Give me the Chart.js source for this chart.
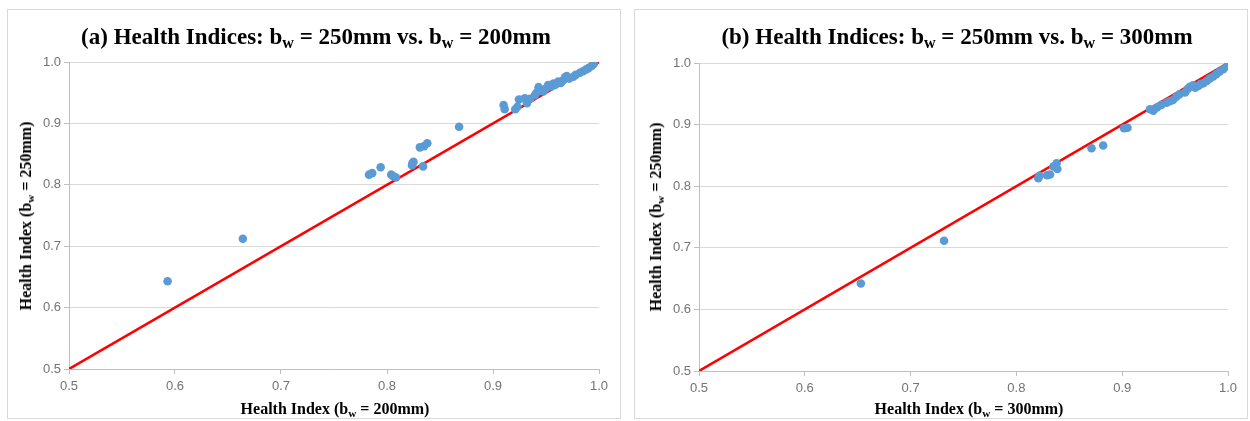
<!DOCTYPE html>
<html>
<head>
<meta charset="utf-8">
<script src="https://cdn.jsdelivr.net/npm/chart.js@4"></script>
<style>
    body { margin: 0; background: #fff; width: 1250px; height: 421px; position: relative; overflow: hidden; }
    .panel { position: absolute; top: 9px; width: 614px; height: 410px; box-sizing: border-box; border: 1px solid #d9d9d9; }
    .panel canvas { position: absolute; left: 0; top: 0; }
    .txt { position: absolute; font-family: "Liberation Serif", "Times New Roman", serif; font-weight: bold; color: #000; white-space: nowrap; transform: translateX(-50%); }
    .title { font-size: 23px; line-height: 23px; }
    .axis { font-size: 16px; line-height: 16px; }
    .ytitle { transform: translate(-50%, -50%) rotate(-90deg); }
    sub { font-size: 70%; vertical-align: -0.25em; line-height: 0; }
</style>
</head>
<body>
<div class="panel" id="panelA" style="left:7px"><canvas id="chartA" width="612" height="408"></canvas></div>
<div class="panel" id="panelB" style="left:634px"><canvas id="chartB" width="612" height="408"></canvas></div>

<div class="txt title" style="left:316px; top:25px">(a) Health Indices: b<sub>w</sub> = 250mm vs. b<sub>w</sub> = 200mm</div>
<div class="txt title" style="left:957px; top:25px">(b) Health Indices: b<sub>w</sub> = 250mm vs. b<sub>w</sub> = 300mm</div>
<div class="txt axis" style="left:335px; top:401px">Health Index (b<sub>w</sub> = 200mm)</div>
<div class="txt axis" style="left:969px; top:401px">Health Index (b<sub>w</sub> = 300mm)</div>
<div class="txt axis ytitle" style="left:26px; top:216px">Health Index (b<sub>w</sub> = 250mm)</div>
<div class="txt axis ytitle" style="left:656px; top:217px">Health Index (b<sub>w</sub> = 250mm)</div>

<script>
// tick values shared by both axes
const axisTicks = [0.5, 0.6, 0.7, 0.8, 0.9, 1.0];

// (a) x = health index at 200mm, y = health index at 250mm
const hiA200 = [0.593, 0.664, 0.783, 0.786, 0.794, 0.804, 0.806, 0.8085, 0.8236, 0.825, 0.824, 0.834,
    0.831, 0.835, 0.838, 0.868, 0.910, 0.911, 0.921, 0.923, 0.9245, 0.930, 0.932, 0.935, 0.9396, 0.941,
    0.943, 0.945, 0.9475, 0.950, 0.952, 0.955, 0.957, 0.959, 0.9616, 0.964, 0.966, 0.968, 0.9695, 0.972,
    0.9758, 0.978, 0.982, 0.985, 0.988, 0.990, 0.993, 0.995];
const hiA250 = [0.643, 0.712, 0.8165, 0.819, 0.8285, 0.8165, 0.814, 0.812, 0.832, 0.8375, 0.835, 0.830,
    0.861, 0.863, 0.8676, 0.8946, 0.930, 0.923, 0.923, 0.927, 0.939, 0.941, 0.933, 0.940, 0.946, 0.950,
    0.959, 0.954, 0.952, 0.957, 0.9625, 0.960, 0.965, 0.963, 0.968, 0.966, 0.970, 0.975, 0.977, 0.973,
    0.976, 0.979, 0.9826, 0.985, 0.988, 0.990, 0.9935, 0.997];

// (b) x = health index at 300mm, y = health index at 250mm
const hiB300 = [0.653, 0.7316, 0.8207, 0.8217, 0.829, 0.8318, 0.835, 0.838, 0.8387, 0.871, 0.882, 0.9017,
    0.905, 0.9263, 0.9294, 0.933, 0.937, 0.942, 0.945, 0.948, 0.951, 0.954, 0.9594, 0.962, 0.964, 0.967,
    0.969, 0.972, 0.974, 0.9767, 0.980, 0.983, 0.986, 0.989, 0.992, 0.9955, 0.9995];
const hiB250 = [0.642, 0.7115, 0.8128, 0.817, 0.8177, 0.819, 0.832, 0.8372, 0.828, 0.8615, 0.866, 0.894,
    0.895, 0.9248, 0.9226, 0.928, 0.932, 0.9355, 0.938, 0.940, 0.945, 0.949, 0.952, 0.958, 0.9615, 0.964,
    0.960, 0.9627, 0.966, 0.967, 0.971, 0.975, 0.978, 0.982, 0.986, 0.9898, 0.995];

// 1:1 reference line
const diagX = [0.5, 1.0];
const diagY = [0.5, 1.0];

function pairs(xs, ys) {
    return xs.map(function (x, i) { return { x: x, y: ys[i] }; });
}

function makeChart(canvasId, xs, ys, box) {
    const tickFont = { family: "'Liberation Sans', Arial, sans-serif", size: 13 };
    return new Chart(document.getElementById(canvasId), {
        type: "scatter",
        data: {
            datasets: [{
                data: pairs(xs, ys),
                backgroundColor: "#5b9bd5",
                borderWidth: 0,
                pointRadius: 4.3,
                pointHoverRadius: 4.3
            }, {
                data: pairs(diagX, diagY),
                showLine: true,
                borderColor: "#ff0000",
                borderWidth: 2.5,
                pointRadius: 0,
                fill: false
            }]
        },
        options: {
            responsive: false,
            animation: false,
            events: [],
            layout: { padding: { left: 0, right: box.right, top: box.top, bottom: 0 } },
            plugins: { legend: { display: false }, tooltip: { enabled: false } },
            scales: {
                x: {
                    type: "linear",
                    min: 0.5,
                    max: 1.0,
                    afterBuildTicks: function (scale) { scale.ticks = axisTicks.map(function (v) { return { value: v }; }); },
                    afterFit: function (scale) { scale.height = box.bottom; },
                    grid: { color: "transparent", tickColor: "#bfbfbf", tickLength: 5, drawTicks: true },
                    border: { display: true, color: "#bfbfbf", width: 1 },
                    ticks: { color: "#737373", font: tickFont, padding: 5, maxRotation: 0,
                        callback: function (v) { return Number(v).toFixed(1); } }
                },
                y: {
                    type: "linear",
                    min: 0.5,
                    max: 1.0,
                    afterBuildTicks: function (scale) { scale.ticks = axisTicks.map(function (v) { return { value: v }; }); },
                    afterFit: function (scale) { scale.width = box.left; },
                    grid: { color: "#d9d9d9", tickColor: "#bfbfbf", tickLength: 5, drawTicks: true },
                    border: { display: true, color: "#bfbfbf", width: 1 },
                    ticks: { color: "#737373", font: tickFont, padding: 3,
                        callback: function (v) { return Number(v).toFixed(1); } }
                }
            }
        }
    });
}

makeChart("chartA", hiA200, hiA250, { left: 61, right: 21, top: 52, bottom: 49 });
makeChart("chartB", hiB300, hiB250, { left: 64, right: 19, top: 53, bottom: 47 });
</script>
</body>
</html>
